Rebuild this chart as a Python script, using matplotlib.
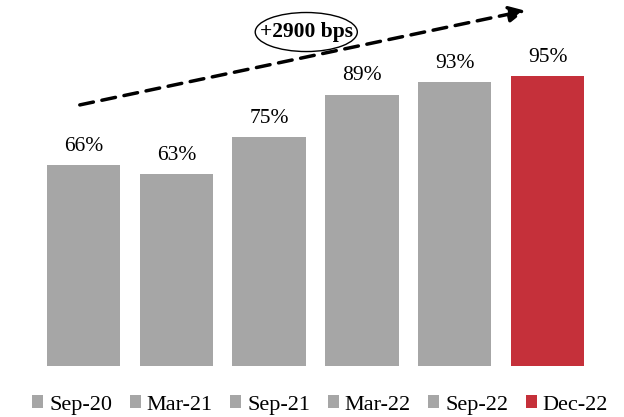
import matplotlib
matplotlib.use("Agg")
import matplotlib.pyplot as plt
from matplotlib.patches import Ellipse, Patch

periods = ["Sep-20", "Mar-21", "Sep-21", "Mar-22", "Sep-22", "Dec-22"]
values = [66, 63, 75, 89, 93, 95]
labels = ["66%", "63%", "75%", "89%", "93%", "95%"]
colors = ["#A6A6A6"] * 5 + ["#C5303A"]

plt.rcParams["font.family"] = ["Liberation Serif", "DejaVu Serif"]

fig = plt.figure(figsize=(6.24, 4.17), dpi=100)
ax = fig.add_axes([37.1 / 624, 51 / 417, (594 - 37.1) / 624, 366 / 417])

x = list(range(len(values)))
ax.bar(x, values, width=0.79, color=colors)
for xi, v, lab in zip(x, values, labels):
    ax.text(xi, v + 3, lab, ha="center", va="bottom", fontsize=15.5)

ax.set_xlim(-0.5, 5.5)
ax.set_ylim(0, 120)
ax.axis("off")

# trend arrow
ax.annotate("", xy=(4.76, 116.5), xytext=(-0.04, 85.6),
            arrowprops=dict(arrowstyle="-|>", color="black", lw=2.5,
                            linestyle=(0, (4, 2.5)), mutation_scale=24,
                            shrinkA=0, shrinkB=0))
ax.add_patch(Ellipse((2.4, 109.5), 1.10, 12.8, fill=True, facecolor="white",
                     edgecolor="black", lw=1, zorder=3))
ax.text(2.4, 109.5, "+2900 bps", ha="center", va="center", fontsize=15.5,
        fontweight="bold", zorder=4)

handles = [Patch(facecolor=c, label=p) for p, c in zip(periods, colors)]
fig.legend(handles=handles, loc="lower center", bbox_to_anchor=(0.513, -0.042),
           ncol=6, frameon=False, fontsize=16, handlelength=0.5,
           handleheight=0.5, handletextpad=0.25, columnspacing=0.8)

fig.savefig("out.png", dpi=100)
